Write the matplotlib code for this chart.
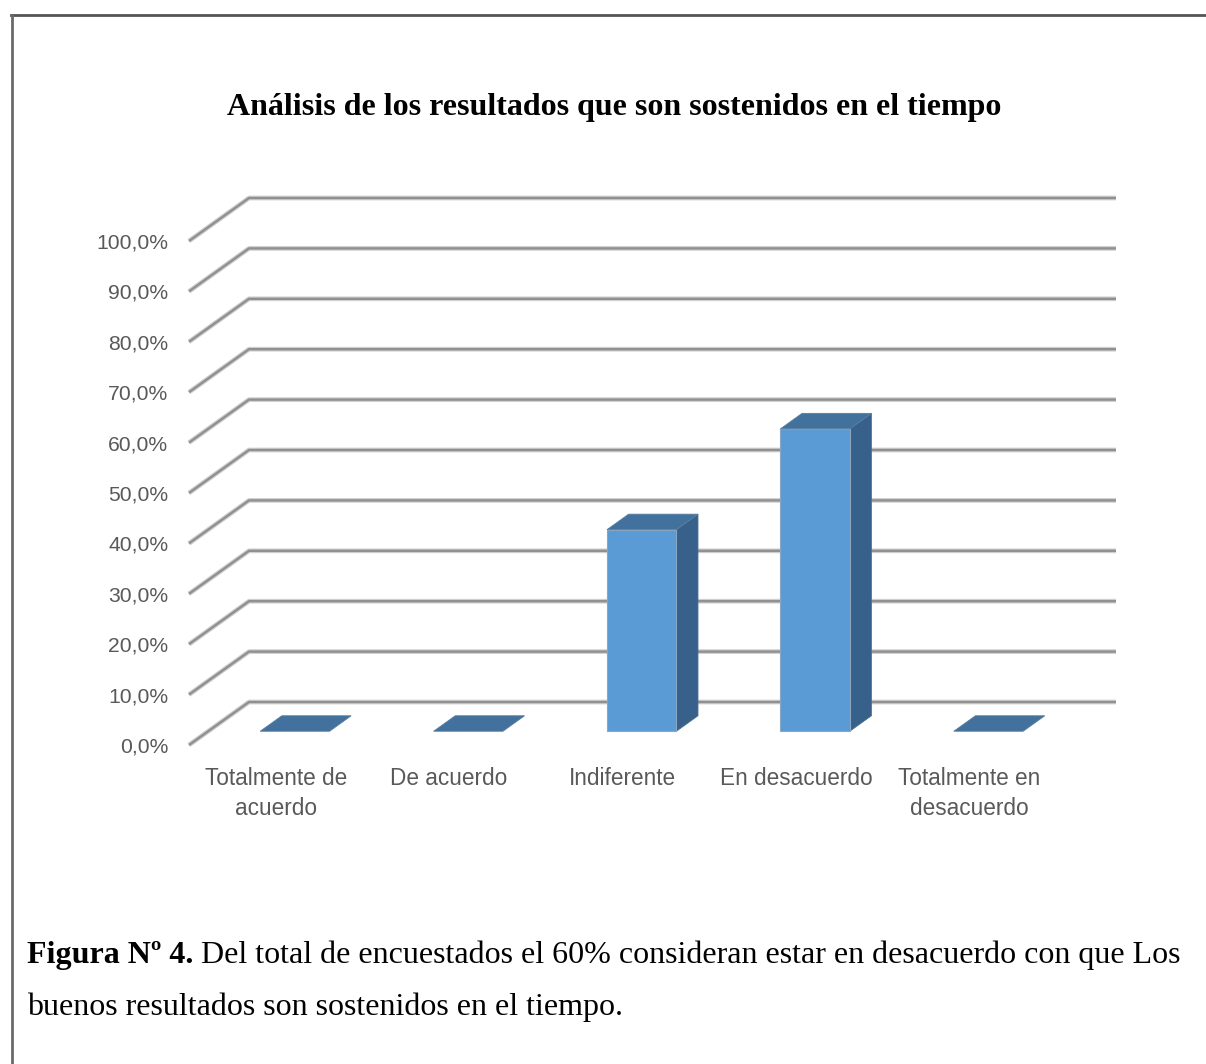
import matplotlib
matplotlib.use('Agg')
import matplotlib.pyplot as plt
from matplotlib.patches import Polygon
from matplotlib.lines import Line2D

categories = ['Totalmente de\nacuerdo', 'De acuerdo', 'Indiferente', 'En desacuerdo', 'Totalmente en\ndesacuerdo']
porcentajes = [0.0, 0.0, 40.0, 60.0, 0.0]
ticks = [0, 10, 20, 30, 40, 50, 60, 70, 80, 90, 100]

titulo = 'Análisis de los resultados que son sostenidos en el tiempo'
pie_negrita = 'Figura Nº 4.'
pie_linea1 = ' Del total de encuestados el 60% consideran estar en desacuerdo con que Los'
pie_linea2 = 'buenos resultados son sostenidos en el tiempo.'

W, H = 1206, 1064
fig = plt.figure(figsize=(W / 100, H / 100), dpi=100)
fig.patch.set_facecolor('white')

# marco de la figura (lineas superior e izquierda)
def fx(px):
    return px / W

def fy(py):
    return 1 - py / H

fig.add_artist(Line2D([fx(11), fx(W)], [fy(15), fy(15)], color='#555555', lw=2.0))
fig.add_artist(Line2D([fx(12), fx(12)], [fy(15), fy(H)], color='#6a6a6a', lw=2.0))

# eje: plano frontal en x=-0.5, profundidad proyectada con (DX, DY)
DX = 0.346
DY = 8.53
ax = fig.add_axes([fx(189), fy(745), fx(1116) - fx(189), fy(198) - fy(745)])
ax.set_xlim(-0.5, len(categories) - 0.5 + DX)
ax.set_ylim(0, 100 + DY)
for s in ax.spines.values():
    s.set_visible(False)

# lineas de division con efecto 3D
x0 = -0.5
x1 = len(categories) - 0.5 + DX
for v in ticks:
    xs = [x0, x0 + DX, x1]
    ys = [v, v + DY, v + DY]
    ax.plot(xs, ys, color='#cfcfcf', lw=3.4, solid_capstyle='butt', clip_on=False, zorder=1)
    ax.plot(xs, ys, color='#909090', lw=1.7, solid_capstyle='butt', clip_on=False, zorder=2)

# barras 3D
frente, fondo, medio = 0.32, 0.68, 0.2
c_frente = '#5b9bd5'
c_tope = '#41719c'
c_lado = '#37618a'
for i, val in enumerate(porcentajes):
    xa = i - medio + frente * DX
    xb = i + medio + frente * DX
    xc = i + medio + fondo * DX
    xd = i - medio + fondo * DX
    ya = frente * DY
    yb = fondo * DY
    if val > 0:
        ax.add_patch(Polygon([(xb, ya), (xc, yb), (xc, yb + val), (xb, ya + val)],
                             closed=True, facecolor=c_lado, edgecolor='#4a6f90', lw=0.6,
                             zorder=3, clip_on=False))
        ax.add_patch(Polygon([(xa, ya), (xb, ya), (xb, ya + val), (xa, ya + val)],
                             closed=True, facecolor=c_frente, edgecolor='#8aa6c0', lw=0.8,
                             zorder=4, clip_on=False))
    ax.add_patch(Polygon([(xa, ya + val), (xb, ya + val), (xc, yb + val), (xd, yb + val)],
                         closed=True, facecolor=c_tope, edgecolor='#5a7ea0', lw=0.6,
                         zorder=5, clip_on=False))

ax.set_yticks(ticks)
ax.set_yticklabels([f'{t:.1f}'.replace('.', ',') + '%' for t in ticks],
                   fontsize=15.2, color='#595959', family='Liberation Sans')
ax.set_xticks(range(len(categories)))
ax.set_xticklabels(categories, fontsize=16.3, color='#595959', family='Liberation Sans',
                   linespacing=1.35)
ax.tick_params(axis='y', length=0, pad=15)
ax.tick_params(axis='x', length=0, pad=16)

fig.text(fx(614), fy(107), titulo, ha='center', va='center', fontsize=23,
         fontweight='bold', family='Liberation Serif', color='black')

# pie de figura: parte en negrita seguida del texto normal
t_b = fig.text(fx(27), fy(955), pie_negrita, ha='left', va='center', fontsize=23,
               fontweight='bold', family='Liberation Serif', color='black')
r = fig.canvas.get_renderer()
bb = t_b.get_window_extent(renderer=r)
fig.text(bb.x1 / W, fy(955), pie_linea1, ha='left', va='center', fontsize=23,
         family='Liberation Serif', color='black')
fig.text(fx(27), fy(1007), pie_linea2, ha='left', va='center', fontsize=23,
         family='Liberation Serif', color='black')

fig.savefig('out.png', dpi=100, facecolor='white')
